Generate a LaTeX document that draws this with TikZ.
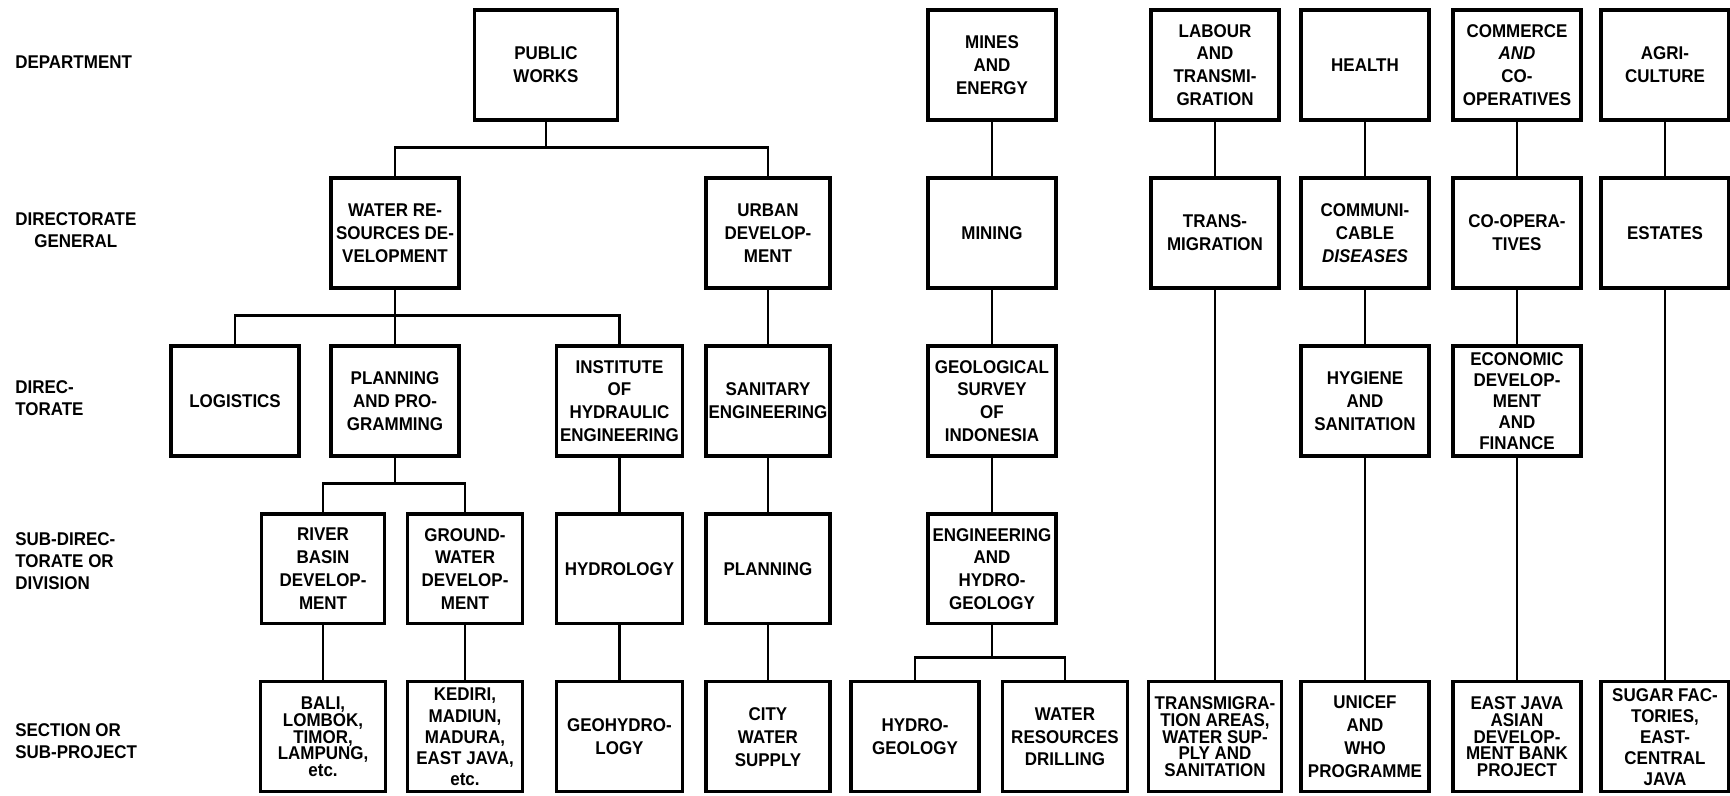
\documentclass[tikz,border=0pt]{standalone}
\usepackage{fontspec}
\setmainfont{Liberation Sans}[FakeStretch=0.92]
\usepackage{tikz}
\usetikzlibrary{positioning}
\tikzstyle{unit} = [rectangle, draw=black, line width=1.8pt, minimum width=2.56cm, minimum height=2.2cm, inner sep=1pt, align=center, font=\fontsize{10.5}{13}\selectfont\bfseries]
\tikzstyle{crowded} = [font=\fontsize{10.5}{9.5}\selectfont\bfseries]
\tikzstyle{packed} = [font=\fontsize{10.5}{12}\selectfont\bfseries]
\tikzstyle{level} = [anchor=west, align=left, inner sep=0pt, font=\fontsize{10.5}{12.5}\selectfont\bfseries]
\tikzstyle{link} = [line width=1.5pt]

\begin{document}
\begin{tikzpicture}[x=0.02cm, y=-0.02cm, node distance=3.36cm]
\useasboundingbox (0,0) rectangle (1730,795);

%==============================================
%Levels
%==============================================
\node (lvldept) [level] at (15,62) {DEPARTMENT};
\node (lvldg) [level, align=center] at (15,230) {DIRECTORATE\\GENERAL};
\node (lvldir) [level] at (15,398) {DIREC-\\TORATE};
\node (lvlsub) [level] at (15,561) {SUB-DIREC-\\TORATE OR\\DIVISION};
\node (lvlsec) [level] at (15,741) {SECTION OR\\SUB-PROJECT};

%Departments==================================
\node (pw) [unit, minimum width=2.86cm] at (546,65) {PUBLIC\\WORKS};
\node (mines) [unit] at (992,65) {MINES\\AND\\ENERGY};
\node (labour) [unit] at (1215,65) {LABOUR\\AND\\TRANSMI-\\GRATION};
\node (health) [unit] at (1365,65) {HEALTH};
\node (commerce) [unit] at (1517,65) {COMMERCE\\\textit{AND}\\CO-\\OPERATIVES};
\node (agri) [unit] at (1665,65) {AGRI-\\CULTURE};

%Directorates general=========================
\node (wrd) [unit, below of=pw, xshift=-3.02cm] {WATER RE-\\SOURCES DE-\\VELOPMENT};
\node (urban) [unit, minimum width=2.48cm, below of=pw, xshift=4.44cm] {URBAN\\DEVELOP-\\MENT};
\node (mining) [unit, below of=mines] {MINING};
\node (trans) [unit, below of=labour] {TRANS-\\MIGRATION};
\node (communicable) [unit, below of=health] {COMMUNI-\\CABLE\\\textit{DISEASES}};
\node (coop) [unit, below of=commerce] {CO-OPERA-\\TIVES};
\node (estates) [unit, below of=agri] {ESTATES};

%Directorates=================================
\node (logistics) [unit, below of=wrd, xshift=-3.2cm] {LOGISTICS};
\node (planprog) [unit, below of=wrd] {PLANNING\\AND PRO-\\GRAMMING};
\node (institute) [unit, minimum width=2.51cm, below of=wrd, xshift=4.49cm] {INSTITUTE\\OF\\HYDRAULIC\\ENGINEERING};
\node (sanitary) [unit, minimum width=2.48cm, below of=urban] {SANITARY\\ENGINEERING};
\node (geosurvey) [unit, below of=mining] {GEOLOGICAL\\SURVEY\\OF\\INDONESIA};
\node (hygiene) [unit, below of=communicable] {HYGIENE\\AND\\SANITATION};
\node (economic) [unit, packed, below of=coop] {ECONOMIC\\DEVELOP-\\MENT\\AND\\FINANCE};

%Sub-directorates=============================
\node (river) [unit, minimum width=2.46cm, below of=planprog, xshift=-1.44cm] {RIVER\\BASIN\\DEVELOP-\\MENT};
\node (ground) [unit, minimum width=2.3cm, below of=planprog, xshift=1.4cm] {GROUND-\\WATER\\DEVELOP-\\MENT};
\node (hydrology) [unit, minimum width=2.51cm, below of=institute] {HYDROLOGY};
\node (planning) [unit, minimum width=2.48cm, below of=sanitary] {PLANNING};
\node (enghydro) [unit, below of=geosurvey] {ENGINEERING\\AND\\HYDRO-\\GEOLOGY};

%Sections=====================================
\node (bali) [unit, crowded, minimum width=2.49cm, below of=river] {BALI,\\LOMBOK,\\TIMOR,\\LAMPUNG,\\etc.};
\node (kediri) [unit, packed, minimum width=2.3cm, below of=ground] {KEDIRI,\\MADIUN,\\MADURA,\\EAST JAVA,\\etc.};
\node (geohydro) [unit, minimum width=2.51cm, below of=hydrology] {GEOHYDRO-\\LOGY};
\node (citywater) [unit, minimum width=2.48cm, below of=planning] {CITY\\WATER\\SUPPLY};
\node (hydrogeo) [unit, below of=enghydro, xshift=-1.54cm] {HYDRO-\\GEOLOGY};
\node (drilling) [unit, minimum width=2.51cm, below of=enghydro, xshift=1.46cm] {WATER\\RESOURCES\\DRILLING};
\node (transarea) [unit, crowded, minimum width=2.66cm, below of=trans, yshift=-6.72cm] {TRANSMIGRA-\\TION AREAS,\\WATER SUP-\\PLY AND\\SANITATION};
\node (unicef) [unit, below of=hygiene, yshift=-3.36cm] {UNICEF\\AND\\WHO\\PROGRAMME};
\node (eastjava) [unit, crowded, below of=economic, yshift=-3.36cm] {EAST JAVA\\ASIAN\\DEVELOP-\\MENT BANK\\PROJECT};
\node (sugar) [unit, packed, below of=estates, yshift=-6.72cm] {SUGAR FAC-\\TORIES,\\EAST-\\CENTRAL\\JAVA};

%==============================================
\draw [link] (pw.south) -- ++(0,26) -| (wrd.north);
\draw [link] (pw.south) -- ++(0,26) -| (urban.north);
\draw [link] (wrd.south) -- ++(0,26) -| (logistics.north);
\draw [link] (wrd.south) -- ++(0,26) -| (institute.north);
\draw [link] (wrd) -- (planprog);
\draw [link] (planprog.south) -- ++(0,26) -| (river.north);
\draw [link] (planprog.south) -- ++(0,26) -| (ground.north);
\draw [link] (river) -- (bali);
\draw [link] (ground) -- (kediri);
\draw [link] (institute) -- (hydrology);
\draw [link] (hydrology) -- (geohydro);
\draw [link] (urban) -- (sanitary);
\draw [link] (sanitary) -- (planning);
\draw [link] (planning) -- (citywater);
\draw [link] (mines) -- (mining);
\draw [link] (mining) -- (geosurvey);
\draw [link] (geosurvey) -- (enghydro);
\draw [link] (enghydro.south) -- ++(0,32) -| (hydrogeo.north);
\draw [link] (enghydro.south) -- ++(0,32) -| (drilling.north);
\draw [link] (labour) -- (trans);
\draw [link] (trans) -- (transarea);
\draw [link] (health) -- (communicable);
\draw [link] (communicable) -- (hygiene);
\draw [link] (hygiene) -- (unicef);
\draw [link] (commerce) -- (coop);
\draw [link] (coop) -- (economic);
\draw [link] (economic) -- (eastjava);
\draw [link] (agri) -- (estates);
\draw [link] (estates) -- (sugar);
\end{tikzpicture}
\end{document}
